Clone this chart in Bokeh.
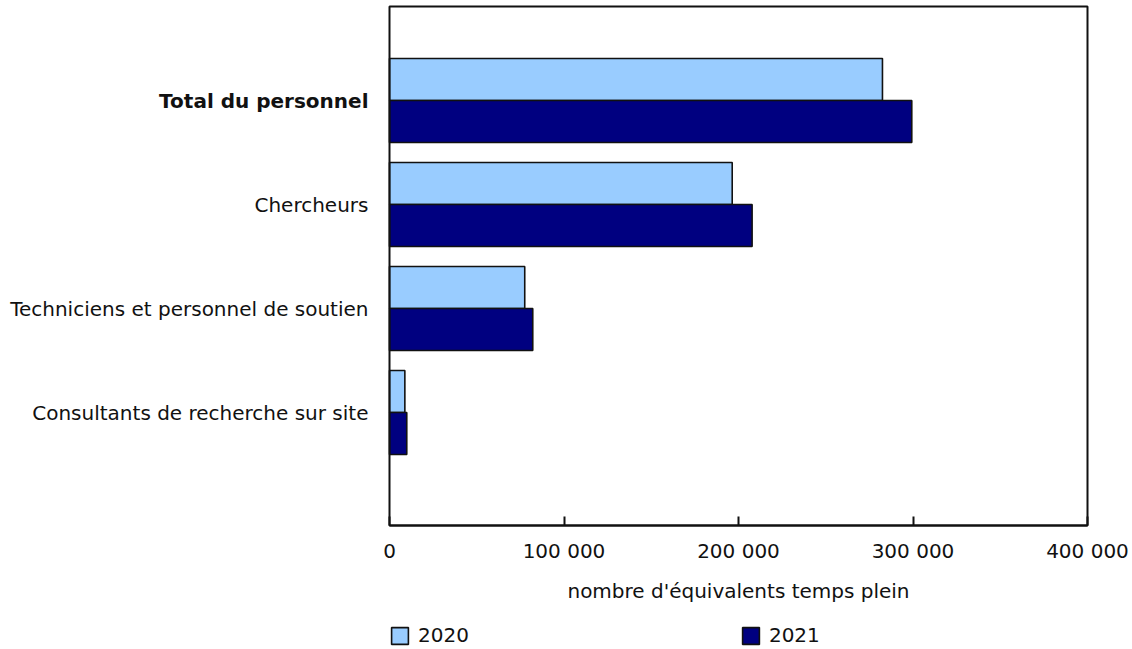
from bokeh.plotting import figure
from bokeh.models import (ColumnDataSource, FixedTicker, LabelSet, Label, Range1d,
                          BoxAnnotation, Legend, LegendItem)
from bokeh.core.properties import value
from bokeh.embed import file_html
from bokeh.resources import INLINE

# ---- data ----
categories = ["Total du personnel", "Chercheurs",
              "Techniciens et personnel de soutien",
              "Consultants de recherche sur site"]
values_2020 = [282500, 196400, 77500, 8800]
values_2021 = [299300, 207800, 82100, 9900]
series_names = ["2020", "2021"]
colors = ["#99CCFF", "#000080"]
tick_values = [0, 100000, 200000, 300000, 400000]
tick_labels = ["0", "100 000", "200 000", "300 000", "400 000"]
x_title = "nombre d'équivalents temps plein"
bold_categories = ["Total du personnel"]
x_max = 400000

FONT = "DejaVu Sans"
FS = "20px"
INK = "#111111"

# ---- layout (pixels) ----
W, H = 1132, 649
box_left, box_right, box_top, box_bottom = 389, 1087, 6, 525
slot = 104.0          # px per category
first_center = 100.0  # px of first category centre
n = len(categories)

pxu_x = (box_right - box_left) / x_max
x_start = -box_left / pxu_x
x_end = (W - box_left) / pxu_x


def y_of(py):
    return (n - 1) - (py - first_center) / slot


y_end = y_of(0)
y_start = y_of(H)
y_box_top = y_of(box_top)
y_box_bottom = y_of(box_bottom)

pos = [n - 1 - i for i in range(n)]  # top to bottom
bar_h = 0.404

src = ColumnDataSource(dict(
    cat=categories,
    pos=pos,
    y2020=[p_ + bar_h / 2 for p_ in pos],
    y2021=[p_ - bar_h / 2 for p_ in pos],
    v2020=values_2020,
    v2021=values_2021,
    style=["bold" if c in bold_categories else "normal" for c in categories],
))

p = figure(width=W, height=H, output_backend="svg", toolbar_location=None,
           x_range=Range1d(x_start, x_end), y_range=Range1d(y_start, y_end),
           min_border=0)

r20 = p.hbar(y="y2020", right="v2020", left=0, height=bar_h, source=src,
             fill_color=colors[0], line_color=INK, line_width=1.6)
r21 = p.hbar(y="y2021", right="v2021", left=0, height=bar_h, source=src,
             fill_color=colors[1], line_color=INK, line_width=1.6)

# chart box
p.add_layout(BoxAnnotation(left=0, right=x_max, top=y_box_top, bottom=y_box_bottom,
                           fill_alpha=0, line_color=INK, line_alpha=1.0, line_width=2,
                           level="overlay"))

p.xgrid.visible = False
p.ygrid.visible = False
p.outline_line_color = None
p.background_fill_color = "white"
p.border_fill_color = "white"

# x axis, drawn at the bottom of the chart box
xa = p.xaxis[0]
xa.fixed_location = y_box_bottom
xa.bounds = (0, x_max)
xa.ticker = FixedTicker(ticks=tick_values)
xa.major_label_overrides = {v: l for v, l in zip(tick_values, tick_labels)}
xa.major_tick_in = 9
xa.major_tick_out = 0
xa.minor_tick_line_color = None
xa.axis_line_color = INK
xa.axis_line_width = 2
xa.major_tick_line_color = INK
xa.major_tick_line_width = 2
xa.major_label_text_font = FONT
xa.major_label_text_font_size = FS
xa.major_label_text_color = INK
xa.major_label_standoff = 13

# axis title, centred on the chart box
p.add_layout(Label(x=x_max / 2, y=y_box_bottom, y_offset=-65, text=x_title,
                   text_align="center", text_baseline="middle",
                   text_font=FONT, text_font_size=FS, text_color=INK))

p.yaxis.visible = False
labels = LabelSet(x=0, y="pos", text="cat", source=src, x_offset=-21,
                  text_align="right", text_baseline="middle",
                  text_font=value(FONT), text_font_size=value(FS),
                  text_font_style="style", text_color=INK)
p.add_layout(labels)

# legend
lg = Legend(items=[LegendItem(label=series_names[0], renderers=[r20]),
                   LegendItem(label=series_names[1], renderers=[r21])],
            orientation="horizontal", location=(box_left, 2), margin=0, padding=0,
            spacing=271, glyph_width=21, glyph_height=21, label_standoff=8,
            label_text_font=FONT, label_text_font_size=FS, label_text_color=INK,
            border_line_color=None, background_fill_alpha=0, label_height=21)
p.add_layout(lg)

open("out.html", "w").write(file_html(p, INLINE))
